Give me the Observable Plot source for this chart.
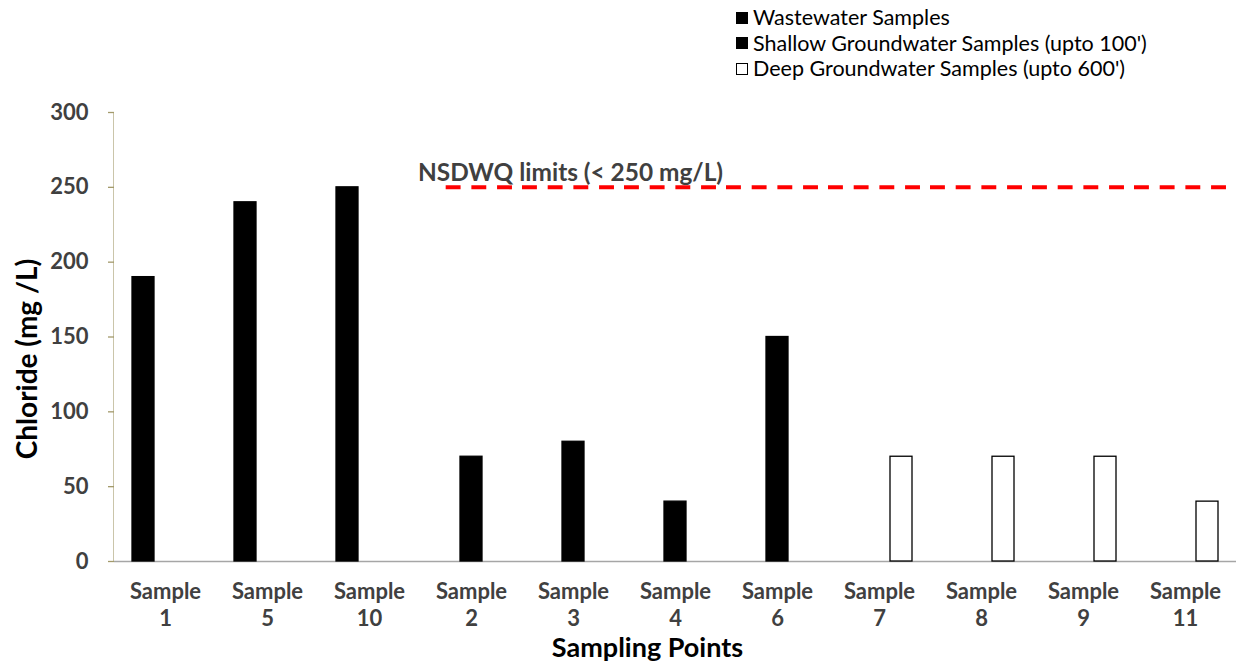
<!DOCTYPE html>
<html>
<head>
<meta charset="utf-8">
<script src="https://cdn.jsdelivr.net/npm/d3@7"></script>
<script src="https://cdn.jsdelivr.net/npm/@observablehq/plot@0.6"></script>
<style>
  html, body { margin: 0; padding: 0; background: #fff; }
  #wrap { position: relative; width: 1239px; height: 662px; overflow: hidden; font-family: Lato, sans-serif; }
  #chart { position: absolute; left: 0; top: 0; }
  #legend { position: absolute; left: 736px; top: 5px; font-size: 21.5px; line-height: 25.5px; color: #000; }
  #legend .row { display: flex; align-items: center; white-space: nowrap; }
  #legend .sw { display: inline-block; width: 12px; height: 12px; box-sizing: border-box; margin-right: 5px; border: 1px solid #000; }
</style>
</head>
<body>
<div id="wrap">
  <div id="chart"></div>
  <div id="legend"></div>
</div>
<script>
// ---- data ----
const samples = ["Sample 1", "Sample 5", "Sample 10", "Sample 2", "Sample 3", "Sample 4", "Sample 6", "Sample 7", "Sample 8", "Sample 9", "Sample 11"];
const sampleGroups = ["Wastewater", "Wastewater", "Wastewater", "Shallow", "Shallow", "Shallow", "Shallow", "Deep", "Deep", "Deep", "Deep"];
const chloride = [190, 240, 250, 70, 80, 40, 150, 70, 70, 70, 40];
const groups = ["Wastewater", "Shallow", "Deep"];
const groupLabels = ["Wastewater Samples", "Shallow Groundwater Samples (upto 100')", "Deep Groundwater Samples (upto 600')"];
const groupFills = ["#000000", "#000000", "#ffffff"];
const yTicks = [0, 50, 100, 150, 200, 250, 300];
const yMax = 300;
const limitValue = 250;
const limitLabel = "NSDWQ limits (< 250 mg/L)";
const limitStart = "Sample 2";
const yTitle = "Chloride (mg /L)";
const xTitle = "Sampling Points";

const data = samples.map((s, i) => ({sample: s, group: sampleGroups[i], value: chloride[i]}));
const limitIndex = samples.indexOf(limitStart);
const limitFacets = samples.slice(limitIndex + 1);

const W = 1239, H = 662, ML = 110, MR = -1;
const facetW = (W - ML - MR) / samples.length;
const period = facetW / 4;
const outerPad = 0.75;
const dash = `${(period * 0.58).toFixed(2)},${(period * 0.42).toFixed(2)}`;

const axisColor = "#a39a6b";
const textGrey = "#404040";

const chart = Plot.plot({
  width: W,
  height: H,
  marginTop: 112,
  marginBottom: 101,
  marginLeft: ML,
  marginRight: MR,
  style: {fontFamily: "Lato, sans-serif", background: "transparent", overflow: "visible"},
  fx: {domain: samples, padding: 0, axis: null},
  x: {domain: groups, paddingInner: 0, paddingOuter: outerPad, axis: null},
  y: {domain: [0, yMax], axis: null},
  color: {domain: groups, range: groupFills},
  marks: [
    Plot.ruleY([0], {stroke: "#a6a6a6", strokeWidth: 1.5}),
    Plot.barY(data, {fx: "sample", x: "group", y: "value", fill: "group", stroke: "#000", strokeWidth: 1.3}),
    // y axis line (thin bar hugging the left edge of the first facet)
    Plot.barY([samples[0]], {fx: d => d, y: () => yMax, fill: axisColor, insetLeft: -0.6, insetRight: facetW - 0.7}),
    Plot.axisY({ticks: yTicks, tickSize: 6, tickPadding: 20, stroke: axisColor, strokeWidth: 1.3, fill: textGrey,
      fontSize: 22, fontWeight: "bold", label: null}),
    Plot.ruleY(limitFacets, {fx: d => d, y: () => limitValue, stroke: "#ff0000", strokeWidth: 4, strokeDasharray: dash}),
    Plot.ruleY([limitStart], {fx: d => d, y: () => limitValue, insetLeft: period,
      stroke: "#ff0000", strokeWidth: 4, strokeDasharray: dash}),
    Plot.text([limitLabel], {fx: () => samples[limitIndex + 1], y: () => limitValue, text: d => d,
      lineAnchor: "bottom", dx: -3, dy: -6, fontSize: 24.4, fontWeight: "bold", fill: textGrey}),
    Plot.text(samples, {fx: d => d, text: d => d.replace(" ", "\n"), frameAnchor: "bottom", lineAnchor: "top",
      dy: 19, lineHeight: 1.2, fontSize: 22, fontWeight: "bold", fill: textGrey}),
    Plot.text([yTitle], {fx: () => samples[0], text: d => d, frameAnchor: "left", textAnchor: "middle", rotate: -90,
      dx: -86, dy: 22, fontSize: 28, fontWeight: "bold", fill: "#000"}),
    Plot.text([xTitle], {fx: () => samples[5], text: d => d, frameAnchor: "bottom", dx: -28, dy: 87,
      lineAnchor: "middle", fontSize: 27, fontWeight: "bold", fill: "#000"})
  ]
});
document.getElementById("chart").appendChild(chart);

// legend
const legend = document.getElementById("legend");
groups.forEach((g, i) => {
  const row = document.createElement("div");
  row.className = "row";
  const sw = document.createElement("span");
  sw.className = "sw";
  sw.style.background = groupFills[i];
  const t = document.createElement("span");
  t.textContent = groupLabels[i];
  row.appendChild(sw);
  row.appendChild(t);
  legend.appendChild(row);
});
</script>
</body>
</html>
